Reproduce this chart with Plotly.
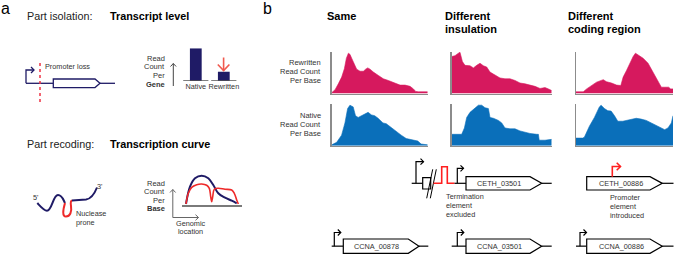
import plotly.graph_objects as go

W, H = 674, 256
FONT = "Liberation Sans, Arial, sans-serif"
NAVY = "#1f1b66"
RED = "#ee2a2a"
PINK = "#d6195e"
BLUE = "#0a6fba"
GREY = "#8c8c8c"
TXT = "#333333"

# ---------------- data ----------------
bar_categories = ["Native", "Rewritten"]
bar_values = [100, 28.5]

curve_native_x = [4.3, 8.3, 13.3, 20, 26.6, 31.6, 36.6, 43.3, 50, 55]
curve_native_y = [0.5, 17.8, 26.2, 28.8, 26.2, 19.5, 11.2, 6.8, 3.8, 1.2]
curve_rewritten_x = [4.3, 6.6, 10, 15, 20, 25, 27.6, 29, 30, 31, 32.6, 36.6, 43.3, 50, 52.6, 55, 56.6]
curve_rewritten_y = [0.5, 11.2, 17.2, 19.8, 20.5, 19.2, 16.2, 7.8, 2.8, 7.8, 15.2, 16.2, 15.2, 14.5, 11.2, 4.5, 0.5]

column_titles = [["Same"], ["Different", "insulation"], ["Different", "coding region"]]
row_labels = [["Rewritten", "Read Count", "Per Base"], ["Native", "Read Count", "Per Base"]]

same_rew_x = [0, 3.5, 6.9, 10.4, 13.2, 15.3, 17.4, 19.1, 20.8, 23.6, 26, 29.5, 33, 35.4, 37.5, 39.9, 43.4,
              48.6, 53.8, 59, 64.2, 67.7, 71.2, 76.4, 81.6, 85.1, 87.5, 90.3, 100]
same_rew_y = [0.02, 0.09, 0.23, 0.39, 0.59, 0.84, 0.96, 0.93, 0.84, 0.72, 0.58, 0.53, 0.53, 0.58, 0.61, 0.58,
              0.51, 0.43, 0.35, 0.31, 0.27, 0.23, 0.2, 0.2, 0.17, 0.11, 0.05, 0.04, 0.04]
same_nat_x = [0, 5.2, 10.3, 13.8, 16.6, 19, 22.4, 24.8, 27.6, 31, 34.5, 37.9, 41.4, 44.8, 48.3, 53.4, 56.9,
              60.3, 63.8, 67.2, 72.4, 77.6, 84.5, 89.7, 93.1, 100]
same_nat_y = [0.02, 0.08, 0.25, 0.54, 0.88, 0.96, 0.92, 0.71, 0.67, 0.71, 0.75, 0.79, 0.73, 0.71, 0.65, 0.54,
              0.52, 0.46, 0.38, 0.32, 0.25, 0.17, 0.14, 0.11, 0.04, 0.02]
ins_rew_x = [0, 3.3, 6.7, 8.3, 10.7, 13.3, 18.3, 21.7, 25, 28.3, 31.7, 35, 38.3, 43.3, 48.3, 53.3, 58.3,
             63.3, 68.3, 73.3, 78.3, 83.3, 88.3, 93.3, 96.7, 100]
ins_rew_y = [0.88, 0.9, 0.96, 0.98, 0.76, 0.67, 0.66, 0.61, 0.67, 0.72, 0.66, 0.63, 0.51, 0.43, 0.37, 0.35,
             0.35, 0.31, 0.25, 0.23, 0.2, 0.17, 0.12, 0.14, 0.11, 0.07]
ins_nat_x = [0, 5, 10, 12.7, 15, 18.3, 23.3, 26.7, 30, 33.3, 36.7, 38.3, 41.7, 46.7, 50, 53.3, 58.3, 63.3,
             68.3, 73.3, 78.3, 85, 86.7, 87.5, 93.3, 100]
ins_nat_y = [0.27, 0.27, 0.27, 0.42, 0.67, 0.79, 0.88, 0.96, 0.96, 0.9, 0.88, 0.67, 0.65, 0.6, 0.54, 0.42,
             0.4, 0.4, 0.35, 0.32, 0.29, 0.27, 0.27, 0.13, 0.13, 0.15]
cod_rew_x = [0, 7.5, 11, 16.1, 21.2, 28.1, 31.5, 36.6, 41.8, 46.2, 48.6, 52.1, 55.5, 58.9, 61.3, 64, 69.2,
             74.3, 78.4, 81.8, 84.6, 88, 91.4, 95.5, 97.6, 100]
cod_rew_y = [0.04, 0.04, 0.11, 0.2, 0.27, 0.33, 0.28, 0.25, 0.2, 0.19, 0.39, 0.55, 0.72, 0.88, 0.96, 0.92,
             0.84, 0.72, 0.55, 0.39, 0.27, 0.15, 0.15, 0.15, 0.11, 0.11]
cod_nat_x = [0, 6.9, 8.6, 13.8, 19, 24.1, 25.9, 29.3, 32.8, 36.2, 39.7, 43.1, 48.3, 53.4, 58.6, 62.1, 67.2,
             72.4, 77.6, 82.8, 87.9, 91.4, 94.8, 98.3, 100]
cod_nat_y = [0.18, 0.18, 0.2, 0.46, 0.67, 0.92, 0.96, 0.88, 0.83, 0.82, 0.71, 0.58, 0.58, 0.6, 0.63, 0.65,
             0.63, 0.6, 0.54, 0.48, 0.42, 0.38, 0.42, 0.54, 0.71]

gene_names_row1 = ["CETH_03501", "CETH_00886"]
gene_names_row2 = ["CCNA_00878", "CCNA_03501", "CCNA_00886"]

# ---------------- helpers ----------------
def fx(p):
    return p / W


def fy(p):
    return 1 - p / H


fig = go.Figure()
layout = dict(
    width=W, height=H, autosize=False,
    margin=dict(l=0, r=0, t=0, b=0),
    paper_bgcolor="white", plot_bgcolor="rgba(0,0,0,0)",
    showlegend=False,
    xaxis=dict(range=[0, W], domain=[0, 1], visible=False, fixedrange=True),
    yaxis=dict(range=[H, 0], domain=[0, 1], visible=False, fixedrange=True),
)

# invisible trace to activate pixel axis
fig.add_trace(go.Scatter(x=[0, W], y=[0, H], mode="markers", marker=dict(opacity=0), hoverinfo="skip",
                         xaxis="x", yaxis="y"))

# bar chart (panel a)
fig.add_trace(go.Bar(x=bar_categories, y=bar_values, marker=dict(color=NAVY, line=dict(width=0)), width=0.42,
                     xaxis="x2", yaxis="y2"))
layout["xaxis2"] = dict(domain=[fx(181.8), fx(237.8)], anchor="y2", showline=False, showgrid=False,
                        zeroline=False, ticks="", tickangle=0, tickfont=dict(size=7.3, color=TXT, family=FONT),
                        range=[-0.5, 1.5], fixedrange=True)
layout["yaxis2"] = dict(domain=[fy(81), fy(48.3)], anchor="x2", range=[0, 100], visible=False, fixedrange=True)

# transcription curve (panel a)
fig.add_trace(go.Scatter(x=curve_native_x, y=curve_native_y, mode="lines", line=dict(color=NAVY, width=2, shape="spline"),
                         xaxis="x3", yaxis="y3"))
fig.add_trace(go.Scatter(x=curve_rewritten_x, y=curve_rewritten_y, mode="lines",
                         line=dict(color=RED, width=1.6, shape="spline"), xaxis="x3", yaxis="y3"))
layout["xaxis3"] = dict(domain=[fx(181.7), fx(241.7)], anchor="y3", range=[0, 60], showline=True, linecolor="#7a7a7a",
                        linewidth=2, showgrid=False, zeroline=False, showticklabels=False, ticks="", fixedrange=True)
layout["yaxis3"] = dict(domain=[fy(204.5), fy(172)], anchor="x3", range=[0, 32.5], visible=False, fixedrange=True)

# area profiles (panel b)
cols_px = [(331.7, 427.7), (451.7, 551.7), (576, 673)]
rows_px = [(51.5, 93.5), (103.5, 145.7)]
profiles = [
    [(same_rew_x, same_rew_y), (ins_rew_x, ins_rew_y), (cod_rew_x, cod_rew_y)],
    [(same_nat_x, same_nat_y), (ins_nat_x, ins_nat_y), (cod_nat_x, cod_nat_y)],
]
colors = [PINK, BLUE]
k = 4
for r in range(2):
    for c in range(3):
        xs, ys = profiles[r][c]
        fig.add_trace(go.Scatter(x=xs, y=ys, mode="lines", fill="tozeroy", fillcolor=colors[r],
                                 line=dict(color=colors[r], width=0.6), xaxis=f"x{k}", yaxis=f"y{k}"))
        x0, x1 = cols_px[c]
        y0, y1 = rows_px[r]
        layout[f"xaxis{k}"] = dict(domain=[fx(x0), fx(x1)], anchor=f"y{k}", range=[0, 100], showline=True,
                                   linecolor=GREY, linewidth=1.4, showgrid=False, zeroline=False,
                                   showticklabels=False, ticks="", fixedrange=True)
        layout[f"yaxis{k}"] = dict(domain=[fy(y1), fy(y0)], anchor=f"x{k}", range=[0, 1], showline=True,
                                   linecolor=GREY, linewidth=1.4, showgrid=False, zeroline=False,
                                   showticklabels=False, ticks="", fixedrange=True)
        k += 1

# ---------------- shapes ----------------
shapes = []


def seg(x0, y0, x1, y1, color="black", width=1.2, dash=None, xref="x", yref="y"):
    ln = dict(color=color, width=width)
    if dash:
        ln["dash"] = dash
    shapes.append(dict(type="line", x0=x0, y0=y0, x1=x1, y1=y1, xref=xref, yref=yref, line=ln, layer="above"))


def path(d, color="black", width=1.2, fill=None):
    s = dict(type="path", path=d, xref="x", yref="y", line=dict(color=color, width=width), layer="above")
    if fill:
        s["fillcolor"] = fill
    shapes.append(s)


def gene(x0, x1, xt, yt, yb, color="black", width=1.2):
    ym = (yt + yb) / 2
    path(f"M{x0},{yt} L{x1},{yt} L{xt},{ym} L{x1},{yb} L{x0},{yb} Z", color, width, fill="white")


def promoter(x, ybase, ytop, xend, color="black", width=1.2, hs=3):
    path(f"M{x},{ybase} L{x},{ytop} L{xend},{ytop}", color, width)
    path(f"M{xend - hs},{ytop - hs} L{xend},{ytop} L{xend - hs},{ytop + hs}", color, width)


# panel a: promoter loss
seg(26, 83.3, 53.3, 83.3, NAVY, 1.3)
seg(100, 83.3, 115, 83.3, NAVY, 1.3)
gene(53.3, 95, 100, 79, 87.6, NAVY, 1.3)
promoter(26, 83.3, 70, 34, NAVY, 1.3)
seg(40, 63, 40, 103.5, "#ee3344", 1.5, dash="dot")

# panel a: bar baselines and arrows
seg(-0.45, 0, 0.45, 0, "#555555", 1.5, xref="x2", yref="y2")
seg(0.55, 0, 1.45, 0, "#555555", 1.5, xref="x2", yref="y2")
seg(223.6, 57.5, 223.6, 70.5, "#f05a4f", 1.6)
path("M217.8,64.5 L223.6,70.5 L229.4,64.5", "#f05a4f", 1.6)
seg(173.3, 86, 173.3, 63.5, "#444444", 1)
path("M170.5,66.5 L173.3,63.5 L176.1,66.5", "#444444", 1)

# panel a: RNA squiggle
path("M37.3,203 C41,207 44,210.7 47,210.7 C52,210.7 53,195 58,195 C62,195 63,199 65,203", NAVY, 2)
path("M65,203 C63,210 62,216.5 66,216.5 C70,216.5 72,212 71,206 C70.5,203 70.5,201 72,200.5", RED, 2)
path("M72,200.5 L86,199.5 C90,199 94,195 97,187.5", NAVY, 2)

# panel a: axes arrows for transcription curve
seg(172.8, 217.5, 172.8, 189.5, "#666666", 1)
path("M170,192.5 L172.8,189.5 L175.6,192.5", "#666666", 1)
seg(172.8, 217.5, 198.5, 217.5, "#666666", 1)
path("M195.5,214.7 L198.5,217.5 L195.5,220.3", "#666666", 1)

# panel b row 1: different insulation
seg(411.7, 183.3, 422.7, 183.3)
promoter(416, 183.3, 161.7, 423.5)
path("M422.7,177.7 L430.7,177.7 L430.7,189 L422.7,189 Z", "black", 1.2, fill="white")
seg(426.7, 198.3, 432.7, 169.3, "black", 1)
seg(430.3, 198.3, 436.3, 169.3, "black", 1)
path("M433.5,183.3 L441.7,183.3 L441.7,166.7 L447.3,166.7 L447.3,183.3 L454.5,183.3", "#ff2020", 1.6)
seg(454.5, 183.3, 466, 183.3)
promoter(457.3, 183.3, 168.3, 463.5)
gene(466, 530, 541.7, 176.7, 190)
seg(541.7, 183.3, 551.7, 183.3)

# panel b row 1: different coding region
gene(586.7, 650, 662.3, 176.7, 190)
seg(662.3, 183.3, 673.5, 183.3)
promoter(612.3, 176.7, 166.5, 620.5, "#ff2020", 1.6, hs=3.8)

# panel b row 2
row2_y = (239, 253.3)
for (lx, px_, bx, sx, tx, rx) in [(331.7, 334.3, 343.3, 408.3, 419, 428.3),
                                  (451.7, 457.3, 466, 530, 541.7, 551.7),
                                  (576, 580, 586.7, 650, 662.3, 673.5)]:
    ym = sum(row2_y) / 2
    seg(lx, ym, bx, ym)
    promoter(px_, ym, 232.5, px_ + 6.5)
    gene(bx, sx, tx, row2_y[0], row2_y[1])
    seg(tx, ym, rx, ym)

# ---------------- annotations ----------------
ann = []


def text(x, y, s, size=7.5, color=TXT, xanchor="left", bold=False):
    if bold:
        s = f"<b>{s}</b>"
    ann.append(dict(x=x, y=y, xref="x", yref="y", text=s, showarrow=False, xanchor=xanchor, yanchor="middle",
                    font=dict(family=FONT, size=size, color=color), borderpad=0))


text(0, 8, "a", 16, "black")
text(262, 8, "b", 16, "black")
text(25.5, 16, "Part isolation:", 10.8, "#222222")
text(108.8, 16, "Transcript level", 10.8, "black", bold=True)
text(25.5, 144, "Part recoding:", 10.8, "#222222")
text(108.8, 144, "Transcription curve", 10.8, "black", bold=True)
text(43.5, 66, "Promoter loss", 7.3)
for yy, s in zip([58.3, 66.7, 75.3, 84.3], ["Read", "Count", "Per", "Gene"]):
    text(165.5, yy, s, 7.5, TXT, "right", bold=(s == "Gene"))
for yy, s in zip([183, 191.5, 200, 208.7], ["Read", "Count", "Per", "Base"]):
    text(165.5, yy, s, 7.5, TXT, "right", bold=(s == "Base"))
text(190.5, 223.8, "Genomic", 7.3, TXT, "center")
text(190.5, 231.5, "location", 7.3, TXT, "center")
text(74.5, 213, "Nuclease", 7.3)
text(74.5, 222, "prone", 7.3)
text(32.3, 197.5, "5'", 7.3)
text(96, 186.5, "3'", 7.3)

# column titles
title_x = [325.8, 443.5, 566.5]
for cx, lines in zip(title_x, column_titles):
    for i, s in enumerate(lines):
        text(cx, 16 + 13.3 * i, s, 11, "black", bold=True)

# row labels
row_y = [[62.3, 71, 80], [115.7, 124.3, 133.3]]
for ys, labels in zip(row_y, row_labels):
    for yy, s in zip(ys, labels):
        text(321.5, yy, s, 7.5, TXT, "right")

# gene names
text(498.8, 183.3, gene_names_row1[0], 7.3, TXT, "center")
text(620.8, 183.3, gene_names_row1[1], 7.3, TXT, "center")
for cx, s in zip([376.3, 499, 621], gene_names_row2):
    text(cx, 246.4, s, 7.3, TXT, "center")

for yy, s in zip([196.7, 205.7, 214.5], ["Termination", "element", "excluded"]):
    text(445.3, yy, s, 7.3)
for yy, s in zip([197.3, 206, 215], ["Promoter", "element", "introduced"]):
    text(609.3, yy, s, 7.3)

layout["shapes"] = shapes
layout["annotations"] = ann
fig.update_layout(**layout)
fig.write_html("out.html", config={"displayModeBar": False, "staticPlot": True},
               post_script="document.body.style.margin='0px';document.body.style.overflow='hidden';")
